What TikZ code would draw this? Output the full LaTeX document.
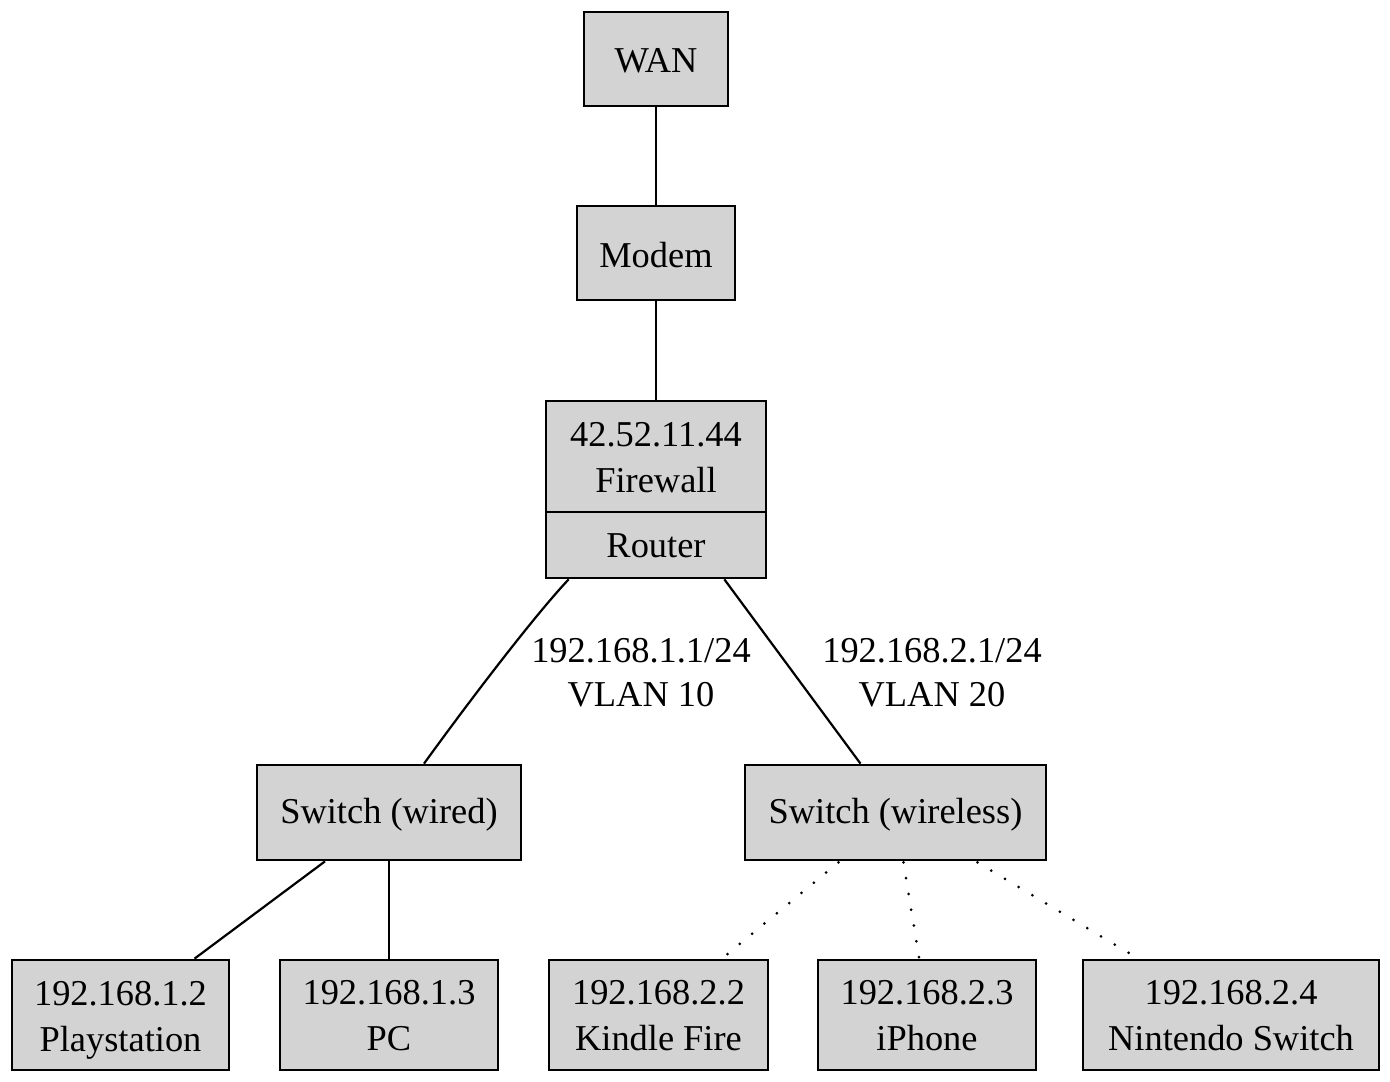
\documentclass[tikz,border=0pt]{standalone}
\usepackage{fontspec}
\setmainfont{Liberation Serif}
\usetikzlibrary{calc}
\definecolor{boxgray}{RGB}{211,211,211}
\tikzset{
  box/.style={draw=black, fill=boxgray, line width=2.7pt, inner sep=0pt},
  txt/.style={inner sep=0pt, align=center, font=\fontsize{36.4}{46}\selectfont},
  lbl/.style={inner sep=0pt, align=center, font=\fontsize{36.4}{44}\selectfont},
  link/.style={line width=2.2pt, draw=black},
  wlink/.style={line width=3pt, draw=black, line cap=round, dash pattern=on 0pt off 16pt},
}
\begin{document}
\begin{tikzpicture}[x=1pt,y=1pt]
\useasboundingbox (0,0) rectangle (1390,-1082);
\node[box, minimum width=144, minimum height=94, label={[txt,yshift=-2pt]center:WAN}] (wan) at (656,-59) {};
\node[box, minimum width=158, minimum height=94, label={[txt,yshift=-2pt]center:Modem}] (modem) at (656,-253) {};
\node[box, minimum width=220, minimum height=111, label={[txt,yshift=-1pt]center:42.52.11.44\\Firewall}] (fw) at (656,-456.5) {};
\node[box, minimum width=220, minimum height=66, label={[txt,yshift=-1pt]center:Router}] (rt) at (656,-545) {};
\node[box, minimum width=264, minimum height=95, label={[txt,yshift=-2pt]center:Switch (wired)}] (sw1) at (389,-812.5) {};
\node[box, minimum width=301, minimum height=95, label={[txt,yshift=-2pt]center:Switch (wireless)}] (sw2) at (895.5,-812.5) {};
\node[box, minimum width=217, minimum height=110, label={[txt,yshift=-5pt]center:192.168.1.2\\Playstation}] (ps) at (120.5,-1015) {};
\node[box, minimum width=218, minimum height=110, label={[txt,yshift=-1pt]center:192.168.1.3\\PC}] (pc) at (389,-1015) {};
\node[box, minimum width=219, minimum height=110, label={[txt,yshift=-1pt]center:192.168.2.2\\Kindle Fire}] (kf) at (658.5,-1015) {};
\node[box, minimum width=218, minimum height=110, label={[txt,yshift=-1pt]center:192.168.2.3\\iPhone}] (ip) at (927,-1015) {};
\node[box, minimum width=296, minimum height=110, label={[txt,yshift=-1pt]center:192.168.2.4\\Nintendo Switch}] (ns) at (1231,-1015) {};
\node[lbl] (l1) at (641,-673) {192.168.1.1/24\\VLAN 10};
\node[lbl] (l2) at (932,-673) {192.168.2.1/24\\VLAN 20};
\draw[link] (wan.south) -- (modem.north);
\draw[link] (modem.south) -- (fw.north);
\draw[link] ($(rt.south west)+(24,0)$) .. controls (535,-615) and (470,-700) .. ($(sw1.north)+(35,0)$);
\draw[link] ($(rt.south east)+(-43,0)$) -- ($(sw2.north)+(-35,0)$);
\draw[link] ($(sw1.south)+(-64,0)$) -- ($(ps.north)+(74,0)$);
\draw[link] (sw1.south) -- (pc.north);
\draw[wlink] ($(sw2.south)+(-57,-1)$) -- ($(kf.north)+(67,3)$);
\draw[wlink] ($(sw2.south)+(8,-1)$) -- ($(ip.north)+(-8,1)$);
\draw[wlink] ($(sw2.south)+(82,-1)$) -- ($(ns.north)+(-101,5)$);
\end{tikzpicture}
\end{document}
